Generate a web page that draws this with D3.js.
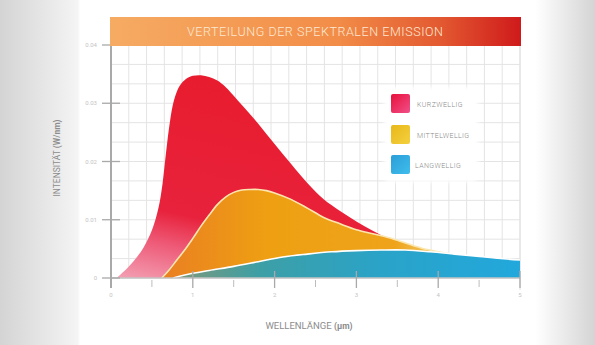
<!DOCTYPE html>
<html><head><meta charset="utf-8">
<script src="https://cdn.jsdelivr.net/npm/d3@7"></script>
<style>html,body{margin:0;padding:0;background:#fff}svg{display:block}</style>
</head><body>
<svg id="c" width="595" height="345"></svg>
<script>
const title = "VERTEILUNG DER SPEKTRALEN EMISSION";
const yTitle = "INTENSITÄT";
const yUnit = "(W/nm)";
const xTitle = "WELLENLÄNGE";
const xUnit = "(µm)";
const xTicks = [0,1,2,3,4,5];
const xMinorTicks = [0.5,1.5,2.5,3.5,4.5];
const yTicks = [0,0.01,0.02,0.03,0.04];
const yTickLabels = ["0","0.01","0.02","0.03","0.04"];
const seriesNames = ["KURZWELLIG","MITTELWELLIG","LANGWELLIG"];

const kurz = [[0.07,0],[0.2,0.0017],[0.3,0.0033],[0.4,0.0053],[0.5,0.0082],[0.58,0.0120],[0.63,0.0162],[0.67,0.0212],[0.72,0.0268],[0.77,0.0305],[0.84,0.0330],[0.92,0.0342],[1.0,0.0347],[1.1,0.0348],[1.2,0.0345],[1.3,0.0339],[1.4,0.0328],[1.5,0.0313],[1.6,0.0297],[1.8,0.0265],[2.0,0.0230],[2.2,0.0196],[2.4,0.0163],[2.6,0.0135],[2.8,0.0115],[3.0,0.0097],[3.2,0.0081],[3.4,0.0067],[3.6,0.0055],[3.8,0.0045],[4.0,0.0036],[4.5,0.0022],[5.0,0.0014]];
const mittel = [[0.62,0],[0.7,0.0012],[0.8,0.003],[0.9,0.0048],[1.0,0.0068],[1.1,0.0089],[1.2,0.0108],[1.3,0.0126],[1.4,0.0139],[1.5,0.0147],[1.6,0.0151],[1.7,0.0152],[1.8,0.0152],[1.9,0.0150],[2.0,0.0146],[2.2,0.0135],[2.4,0.0120],[2.6,0.0104],[2.8,0.0093],[3.0,0.0083],[3.2,0.0076],[3.4,0.0069],[3.6,0.0060],[3.8,0.0051],[4.0,0.0045],[4.2,0.0040],[4.4,0.0036],[4.6,0.0032],[5.0,0.0026]];
const lang = [[0.76,0],[1.0,0.0008],[1.2,0.0013],[1.5,0.0020],[1.8,0.0028],[2.1,0.0036],[2.4,0.0041],[2.7,0.0045],[3.0,0.0047],[3.3,0.0048],[3.6,0.0048],[3.9,0.0045],[4.2,0.0041],[4.5,0.0037],[4.8,0.0033],[5.0,0.0031]];

const svg = d3.select("#c");
const x = d3.scaleLinear().domain([0,5]).range([111,520]);
const y = d3.scaleLinear().domain([0,0.04]).range([278,45]);
const defs = svg.append("defs");

function lg(id, stops, x1="0%",y1="0%",x2="100%",y2="0%"){
  const g = defs.append("linearGradient").attr("id",id).attr("x1",x1).attr("y1",y1).attr("x2",x2).attr("y2",y2);
  stops.forEach(s=>g.append("stop").attr("offset",s[0]).attr("stop-color",s[1]));
}
lg("bg",[["0%","#d4d4d4"],["13%","#f4f4f4"],["13.5%","#ffffff"],["90%","#ffffff"],["100%","#d4d4d4"]]);
lg("ban",[["0%","#f6ab63"],["55%","#f28d48"],["80%","#e35a31"],["100%","#cf1a1b"]]);
lg("red",[["0%","#f3a0b4"],["18%","#ee5b78"],["32%","#e8223c"],["100%","#e81b2c"]],"0%","100%","45%","0%");
lg("ora",[["0%","#ea7f22"],["30%","#eea012"],["65%","#eea31a"],["78%","#f3cf70"],["100%","#f6e6a0"]]);
lg("blu",[["0%","#7f9878"],["25%","#3d9fa6"],["60%","#2aa3c8"],["100%","#22a8dc"]]);
lg("lr",[["0%","#e8103a"],["100%","#f0508a"]],"0%","0%","100%","100%");
lg("ly",[["0%","#e8b818"],["100%","#f4d040"]],"0%","0%","100%","100%");
lg("lb",[["0%","#2a9ed8"],["100%","#40bdec"]],"0%","0%","100%","100%");
defs.append("filter").attr("id","blur").append("feGaussianBlur").attr("stdDeviation",2);

svg.append("rect").attr("width",595).attr("height",345).attr("fill","url(#bg)");

// grid
const g = svg.append("g");
const vgrid = d3.range(0,24).map(i=>i*5/23);
const hgrid = d3.range(0,13).map(i=>i*0.04/12);
g.selectAll(".vg").data(vgrid).join("line").attr("x1",d=>x(d)).attr("x2",d=>x(d)).attr("y1",y(0.04)).attr("y2",y(0)).attr("stroke","#e4e4e4").attr("stroke-width",1);
g.selectAll(".hg").data(hgrid).join("line").attr("x1",x(0)).attr("x2",x(5)).attr("y1",d=>y(d)).attr("y2",d=>y(d)).attr("stroke","#e4e4e4").attr("stroke-width",1);
g.append("line").attr("x1",x(5)).attr("x2",x(5)).attr("y1",y(0.04)).attr("y2",290).attr("stroke","#e0e0e0");

// legend box
svg.append("rect").attr("x",384).attr("y",87).attr("width",94).attr("height",95).attr("rx",6).attr("fill","#fff").attr("filter","url(#blur)");

// areas
const curve = d3.curveCatmullRom.alpha(0.5);
const area = d3.area().x(d=>x(d[0])).y0(y(0)).y1(d=>y(d[1])).curve(curve);
const line = d3.line().x(d=>x(d[0])).y(d=>y(d[1])).curve(curve);
svg.append("path").datum(kurz).attr("d",area).attr("fill","url(#red)");
svg.append("path").datum(mittel).attr("d",area).attr("fill","url(#ora)");
svg.append("path").datum(mittel).attr("d",line).attr("fill","none").attr("stroke","#fbe6b0").attr("stroke-width",1.6);
svg.append("path").datum(lang).attr("d",area).attr("fill","url(#blu)");
svg.append("path").datum(lang).attr("d",line).attr("fill","none").attr("stroke","#ffffff").attr("stroke-width",1.6);

// axes
const ax = svg.append("g").attr("stroke","#a9a9a9");
ax.append("line").attr("x1",x(0)).attr("x2",x(5)).attr("y1",y(0)).attr("y2",y(0)).attr("stroke-width",1.5).attr("stroke","#c4c4c4");
ax.append("line").attr("x1",x(0)).attr("x2",x(0)).attr("y1",y(0.04)).attr("y2",288).attr("stroke-width",2);
ax.selectAll(".yt").data(yTicks).join("line").attr("x1",102).attr("x2",120).attr("y1",d=>y(d)).attr("y2",d=>y(d)).attr("stroke-width",1.3);
ax.selectAll(".xt").data(xTicks.slice(1)).join("line").attr("x1",d=>x(d)).attr("x2",d=>x(d)).attr("y1",271).attr("y2",288).attr("stroke-width",1.3);
ax.selectAll(".xm").data(xMinorTicks).join("line").attr("x1",d=>x(d)).attr("x2",d=>x(d)).attr("y1",280).attr("y2",287).attr("stroke-width",1).attr("stroke","#bdbdbd");

svg.selectAll(".yl").data(yTicks).join("text").attr("x",97).attr("y",d=>y(d)+2).attr("text-anchor","end")
  .attr("font-family","Roboto").attr("font-size",6).attr("fill","#c4c4c4").text((d,i)=>yTickLabels[i]);
svg.selectAll(".xl").data(xTicks).join("text").attr("x",d=>x(d)).attr("y",297).attr("text-anchor","middle")
  .attr("font-family","Roboto").attr("font-size",6).attr("fill","#c4c4c4").text(d=>d);

// banner
svg.append("rect").attr("x",110).attr("y",17).attr("width",411).attr("height",29).attr("fill","url(#ban)");
svg.append("text").attr("x",315).attr("y",36).attr("text-anchor","middle").attr("font-family","Roboto").attr("font-weight",300)
  .attr("font-size",12.5).attr("fill","#fde9d4").attr("textLength",256).attr("lengthAdjust","spacing").text(title);

// axis titles
const yt = svg.append("text").attr("transform","translate(60,158) rotate(-90)").attr("text-anchor","middle")
  .attr("font-family","Roboto").attr("font-size",8.5).attr("fill","#8c8c8c");
yt.append("tspan").text(yTitle+" ");
yt.append("tspan").attr("font-weight",700).attr("font-size",8.5).text(yUnit);
const xt = svg.append("text").attr("x",309).attr("y",329).attr("text-anchor","middle")
  .attr("font-family","Roboto").attr("font-size",9.5).attr("fill","#8c8c8c");
xt.append("tspan").text(xTitle+" ");
xt.append("tspan").attr("font-weight",700).attr("font-size",8.5).text(xUnit);

// legend
const legFills = ["url(#lr)","url(#ly)","url(#lb)"];
const legY = [94,125,155];
const leg = svg.append("g");
leg.selectAll("rect").data(seriesNames).join("rect").attr("x",391).attr("y",(d,i)=>legY[i]).attr("width",19).attr("height",19).attr("rx",2).attr("fill",(d,i)=>legFills[i]);
leg.selectAll("text").data(seriesNames).join("text").attr("x",(d,i)=>i==2?415:417).attr("y",(d,i)=>legY[i]+12.5)
  .attr("font-family","Roboto").attr("font-weight",300).attr("font-size",7).attr("fill","#8a8a8a").attr("letter-spacing",0.4).text(d=>d);
</script>
</body></html>
